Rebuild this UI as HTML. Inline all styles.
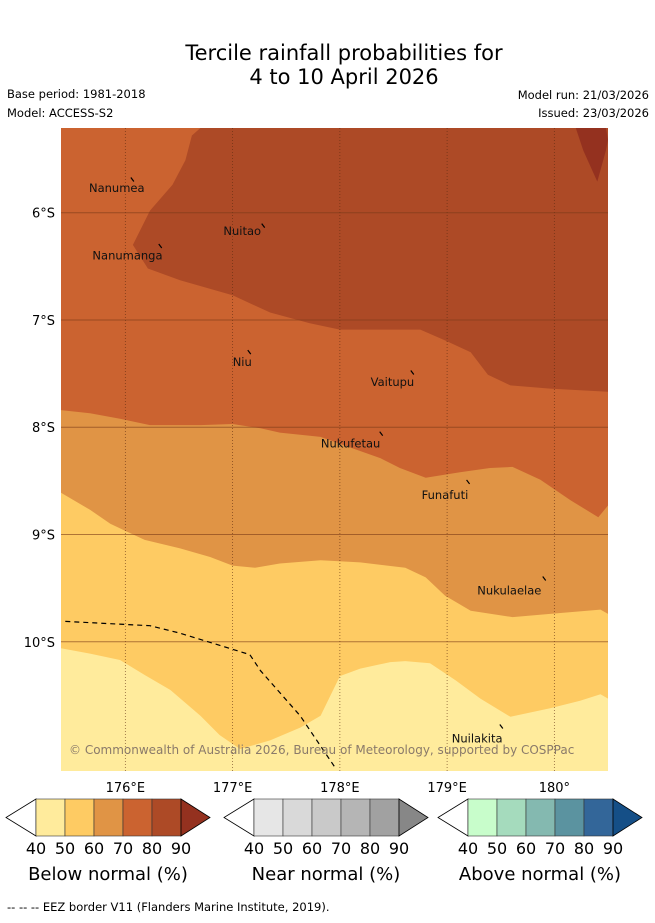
<!DOCTYPE html>
<html><head><meta charset="utf-8"><style>
body{margin:0;background:#fff;width:655px;height:919px;overflow:hidden;font-family:"DejaVu Sans","Liberation Sans",sans-serif;}
svg text{font-family:"DejaVu Sans","Liberation Sans",sans-serif;}
</style></head><body>
<svg id="chart" width="655" height="919" xmlns="http://www.w3.org/2000/svg">
<text x="344" y="60" font-size="21" text-anchor="middle">Tercile rainfall probabilities for</text>
<text x="344" y="84" font-size="21" text-anchor="middle">4 to 10 April 2026</text>
<text x="7" y="98" font-size="11.5">Base period: 1981-2018</text>
<text x="7" y="117" font-size="11.5">Model: ACCESS-S2</text>
<text x="649" y="99" font-size="11.5" text-anchor="end">Model run: 21/03/2026</text>
<text x="649" y="117" font-size="11.5" text-anchor="end">Issued: 23/03/2026</text>
<g id="map"></g>
<g id="bars"></g>
<text x="7" y="911" font-size="11.5">--  --  -- EEZ border V11 (Flanders Marine Institute, 2019).</text>
</svg>
<script>
const lonTicks=[176,177,178,179,180];
const lonLabels=["176°E","177°E","178°E","179°E","180°"];
const latTicks=[-6,-7,-8,-9,-10];
const latLabels=["6°S","7°S","8°S","9°S","10°S"];
const levelColors=["#ffeb9c","#fecb63","#e09445","#cb6330","#ad4a26","#94311f"];
const b50=[[175.40,-10.06],[175.67,-10.11],[175.95,-10.17],[176.18,-10.31],[176.42,-10.45],[176.70,-10.69],[176.88,-10.87],[177.07,-11.00],[177.35,-10.92],[177.63,-10.80],[177.82,-10.69],[178.00,-10.32],[178.19,-10.25],[178.47,-10.19],[178.61,-10.18],[178.84,-10.20],[179.08,-10.36],[179.31,-10.53],[179.59,-10.70],[179.96,-10.62],[180.24,-10.55],[180.43,-10.49],[180.50,-10.53]];
const b60=[[175.40,-8.61],[175.67,-8.77],[175.86,-8.90],[176.18,-9.05],[176.51,-9.13],[176.79,-9.21],[177.00,-9.29],[177.21,-9.31],[177.44,-9.27],[177.82,-9.24],[178.19,-9.26],[178.61,-9.31],[178.80,-9.40],[178.98,-9.57],[179.22,-9.71],[179.61,-9.77],[179.96,-9.74],[180.43,-9.70],[180.50,-9.74]];
const b70=[[175.40,-7.84],[175.67,-7.87],[175.95,-7.92],[176.23,-7.98],[176.70,-7.98],[177.00,-7.97],[177.26,-8.01],[177.44,-8.05],[177.82,-8.09],[178.10,-8.19],[178.38,-8.29],[178.56,-8.38],[178.80,-8.47],[179.12,-8.42],[179.40,-8.38],[179.61,-8.37],[179.87,-8.49],[180.15,-8.68],[180.41,-8.84],[180.50,-8.73]];
const b80=[[176.70,-5.21],[176.62,-5.28],[176.56,-5.51],[176.44,-5.74],[176.23,-5.98],[176.07,-6.30],[176.21,-6.52],[176.51,-6.63],[177.00,-6.77],[177.35,-6.93],[177.72,-7.03],[178.00,-7.09],[178.75,-7.09],[178.98,-7.19],[179.22,-7.30],[179.38,-7.51],[179.59,-7.61],[179.96,-7.64],[180.50,-7.67]];
const b90=[[180.20,-5.21],[180.27,-5.42],[180.40,-5.71],[180.48,-5.42],[180.50,-5.32],[180.48,-5.21]];
const eez=[[175.44,-9.81],[176.23,-9.85],[176.51,-9.92],[177.16,-10.12],[177.26,-10.27],[177.63,-10.69],[177.96,-11.18]];
const islandNames=["Nanumea","Nuitao","Nanumanga","Niu","Vaitupu","Nukufetau","Funafuti","Nukulaelae","Nuilakita"];
const islandLon=[176.07,177.29,176.33,177.16,178.68,178.39,179.20,179.91,179.51];
const islandLat=[-5.69,-6.12,-6.31,-7.30,-7.49,-8.06,-8.51,-9.41,-10.79];
const labelLon=[175.92,177.09,176.02,177.09,178.49,178.10,178.98,179.58,179.28];
const labelLat=[-5.77,-6.17,-6.40,-7.39,-7.58,-8.15,-8.63,-9.52,-10.90];

const L=61,R=608,T=128,B=771,lon0=175.4,lon1=180.5,lat0=-5.21,lat1=-11.205;
const X=lon=>L+(lon-lon0)/(lon1-lon0)*(R-L);
const Y=lat=>T+(lat-lat0)/(lat1-lat0)*(B-T);
const NS="http://www.w3.org/2000/svg";
function mk(tag,attrs,parent){const e=document.createElementNS(NS,tag);for(const k in attrs)e.setAttribute(k,attrs[k]);parent.appendChild(e);return e;}
const mapG=document.getElementById('map');
const clipP=mk('clipPath',{id:'mc'},mapG);mk('rect',{x:L,y:T,width:R-L,height:B-T},clipP);
const gg=mk('g',{'clip-path':'url(#mc)'},mapG);
const bgRect=mk('rect',{x:L,y:T,width:R-L,height:B-T,fill:levelColors[0]},gg);


const pts=a=>a.map(p=>X(p[0]).toFixed(1)+','+Y(p[1]).toFixed(1)).join(' ');
const topEdge=[[lon1,lat0],[lon0,lat0]];
[[b50,1,'region-50-60'],[b60,2,'region-60-70'],[b70,3,'region-70-80']].forEach(([b,i,n])=>{
 const p=mk('polygon',{points:pts(b.concat(topEdge)),fill:levelColors[i]},gg);
 
 
});
const p8=mk('polygon',{points:pts(b80.concat([[lon1,lat0]])),fill:levelColors[4]},gg);


const p9=mk('polygon',{points:pts(b90),fill:levelColors[5]},gg);


lonTicks.forEach((t,i)=>{
 const l=mk('line',{x1:X(t),x2:X(t),y1:T,y2:B,stroke:'#5a2a10','stroke-width':0.8,'stroke-dasharray':'1,2','stroke-opacity':0.7},gg);
 
 
 const tx=mk('text',{x:X(t),y:792,'font-size':13,'text-anchor':'middle'},mapG);tx.textContent=lonLabels[i];
 
 
});
latTicks.forEach((t,i)=>{
 const l=mk('line',{x1:L,x2:R,y1:Y(t),y2:Y(t),stroke:'#7a3a18','stroke-width':1,'stroke-opacity':0.6},gg);
 
 
 const tx=mk('text',{x:55,y:Y(t)+5,'font-size':13,'text-anchor':'end'},mapG);tx.textContent=latLabels[i];
 
 
});
const ez=mk('polyline',{points:pts(eez),fill:'none',stroke:'#000','stroke-width':1.2,'stroke-dasharray':'5,4'},gg);


islandNames.forEach((n,i)=>{
 const m=mk('line',{x1:X(islandLon[i])-2,y1:Y(islandLat[i])-2,x2:X(islandLon[i])+1,y2:Y(islandLat[i])+2,stroke:'#000','stroke-width':1.2},gg);
 
 
 const tx=mk('text',{x:X(labelLon[i]),y:Y(labelLat[i])+4,'font-size':11.5,'text-anchor':'middle',fill:'#111'},gg);tx.textContent=n;
 
 
});
const cp=mk('text',{x:69,y:754,'font-size':12,fill:'#8a7a6a'},gg);cp.textContent='© Commonwealth of Australia 2026, Bureau of Meteorology, supported by COSPPac';



const barTitles=["Below normal (%)","Near normal (%)","Above normal (%)"];
const barColors=[["#ffeb9c","#fecb63","#e09445","#cb6330","#ad4a26","#94311f"],["#e6e6e6","#d9d9d9","#c9c9c9","#b5b5b5","#a1a1a1","#878787"],["#c8fdcb","#a5dbbd","#84b9b0","#5b93a0","#336699","#154f87"]];
const barTicks=["40","50","60","70","80","90"];
const barsG=document.getElementById('bars');
[36,254,468].forEach((x0,k)=>{
 const bg2=mk('g',{},barsG);
 
 
 const y0=799,y1=836,ym=817.5,w=29;
 mk('polygon',{points:`${x0},${y0} ${x0-30},${ym} ${x0},${y1}`,fill:'#fff',stroke:'#000','stroke-width':0.8},bg2);
 for(let i=0;i<5;i++)mk('rect',{x:x0+i*w,y:y0,width:w,height:y1-y0,fill:barColors[k][i],stroke:'#333','stroke-width':0.6},bg2);
 mk('polygon',{points:`${x0+145},${y0} ${x0+174},${ym} ${x0+145},${y1}`,fill:barColors[k][5],stroke:'#000','stroke-width':0.8},bg2);
 barTicks.forEach((t,i)=>{const tx=mk('text',{x:x0+i*w,y:854,'font-size':16,'text-anchor':'middle'},bg2);tx.textContent=t;});
 const tt=mk('text',{x:x0+72,y:880,'font-size':18,'text-anchor':'middle'},bg2);tt.textContent=barTitles[k];
});
</script>
</body></html>
